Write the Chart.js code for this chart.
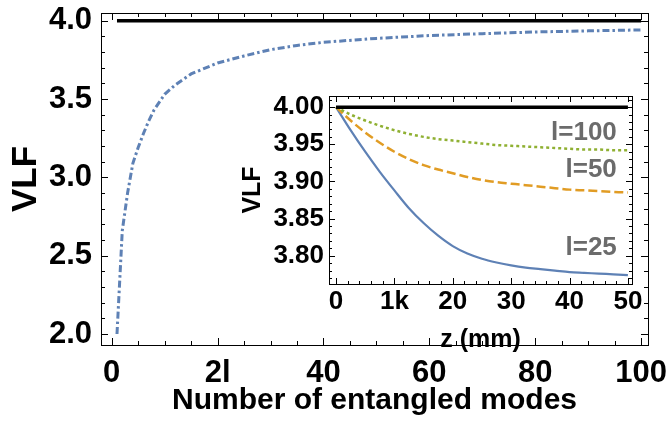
<!DOCTYPE html>
<html>
<head>
<meta charset="utf-8">
<script src="https://cdn.jsdelivr.net/npm/chart.js@4.4.1/dist/chart.umd.min.js"></script>
<style>
  body { margin: 0; background: #fff; }
  #wrap { position: relative; width: 670px; height: 426px; overflow: hidden; }
  canvas { position: absolute; }
</style>
</head>
<body>
<div id="wrap">
  <canvas id="mainChart" width="670" height="426" style="left:0;top:0;width:670px;height:426px"></canvas>
  <canvas id="insetChart" width="420" height="275" style="left:230px;top:85px;width:420px;height:275px"></canvas>
</div>
<script>
// main plot: VLF vs number of entangled modes
const mainModes = [1, 2, 3, 4, 5, 6, 7, 8, 10, 12, 15, 20, 25, 30, 35, 40, 50, 60, 70, 80, 90, 100];
const mainVLF = [2.00, 2.66, 2.90, 3.09, 3.19, 3.28, 3.36, 3.43, 3.53, 3.59, 3.66, 3.73, 3.775, 3.815, 3.842, 3.862, 3.887, 3.905, 3.917, 3.928, 3.935, 3.941];
const mainLimitX = [1, 100];
const mainLimitY = [4.0, 4.0];
const mainXTicks = [0, 20, 40, 60, 80, 100];
const mainXLabels = ['0', '2l', '40', '60', '80', '100'];
const mainYTicks = [2.0, 2.5, 3.0, 3.5, 4.0];
const mainYLabels = ['2.0', '2.5', '3.0', '3.5', '4.0'];

// inset: VLF vs z for three values of l
const insetZ = [0, 2.5, 5, 7.5, 10, 12.5, 15, 17.5, 20, 22.5, 25, 27.5, 30, 32.5, 35, 37.5, 40, 42.5, 45, 47.5, 50];
const vlfL25 = [4.000, 3.969, 3.940, 3.913, 3.888, 3.864, 3.844, 3.827, 3.813, 3.803, 3.796, 3.791, 3.787, 3.784, 3.782, 3.780, 3.778, 3.777, 3.776, 3.775, 3.774];
const vlfL50 = [4.000, 3.982, 3.966, 3.952, 3.940, 3.930, 3.922, 3.916, 3.911, 3.906, 3.902, 3.899, 3.897, 3.895, 3.893, 3.891, 3.889, 3.888, 3.887, 3.886, 3.885];
const vlfL100 = [4.000, 3.990, 3.982, 3.975, 3.969, 3.964, 3.960, 3.957, 3.955, 3.953, 3.951, 3.949, 3.948, 3.947, 3.946, 3.945, 3.944, 3.943, 3.943, 3.942, 3.942];
const insetLimitX = [0, 50];
const insetLimitY = [4.0, 4.0];
const insetXTicks = [0, 10, 20, 30, 40, 50];
const insetXLabels = ['0', '1k', '20', '30', '40', '50'];
const insetYTicks = [3.80, 3.85, 3.90, 3.95, 4.00];
const insetYLabels = ['3.80', '3.85', '3.90', '3.95', '4.00'];
const curveNames = ['l=25', 'l=50', 'l=100'];

const pts = (xs, ys) => xs.map((x, i) => ({ x: x, y: ys[i] }));

Chart.defaults.font.family = "'Liberation Sans', Arial, sans-serif";
Chart.defaults.font.weight = 'bold';
Chart.defaults.color = '#000';

// frame on all four sides with inward major/minor ticks (Mathematica style)
const frameTicks = {
  id: 'frameTicks',
  afterDatasetsDraw(chart, args, o) {
    const { ctx, chartArea: a, scales: { x, y } } = chart;
    ctx.save();
    ctx.strokeStyle = '#000';
    ctx.lineWidth = 1;
    ctx.strokeRect(Math.round(a.left) + 0.5, Math.round(a.top) + 0.5, Math.round(a.width), Math.round(a.height));
    ctx.beginPath();
    for (let k = Math.ceil(x.min / o.xStep); k * o.xStep <= x.max; k++) {
      const v = k * o.xStep;
      const len = Math.abs(v / o.xMajor - Math.round(v / o.xMajor)) < 1e-6 ? o.major : o.minor;
      const px = Math.round(x.getPixelForValue(v)) + 0.5;
      ctx.moveTo(px, a.bottom); ctx.lineTo(px, a.bottom - len);
      ctx.moveTo(px, a.top); ctx.lineTo(px, a.top + len);
    }
    for (let k = Math.ceil(y.min / o.yStep - 1e-6); k * o.yStep <= y.max + 1e-9; k++) {
      const v = k * o.yStep;
      const len = Math.abs(v / o.yMajor - Math.round(v / o.yMajor)) < 1e-6 ? o.major : o.minor;
      const py = Math.round(y.getPixelForValue(v)) + 0.5;
      ctx.moveTo(a.left, py); ctx.lineTo(a.left + len, py);
      ctx.moveTo(a.right, py); ctx.lineTo(a.right - len, py);
    }
    ctx.stroke();
    ctx.restore();
  }
};

// curve names inside the inset, placed in data coordinates
const curveLabels = {
  id: 'curveLabels',
  afterDatasetsDraw(chart, args, o) {
    if (!o.items) return;
    const { ctx, scales: { x, y } } = chart;
    ctx.save();
    ctx.font = "bold 26px 'Liberation Sans', Arial, sans-serif";
    ctx.fillStyle = '#6b6b6b';
    ctx.textAlign = 'right';
    ctx.textBaseline = 'middle';
    o.items.forEach(it => ctx.fillText(it.text, x.getPixelForValue(it.x), y.getPixelForValue(it.y)));
    ctx.restore();
  }
};

function axis(min, max, values, labels, size, pad, fit, title, titleSize, titlePad) {
  return {
    type: 'linear', min: min, max: max,
    grid: { display: false, drawTicks: false },
    border: { display: false },
    afterBuildTicks: s => { s.ticks = values.map(v => ({ value: v })); },
    afterFit: s => {
      fit(s);
      // keep the plot frame where it is, labels may overhang
      s.paddingTop = 0; s.paddingBottom = 0; s.paddingLeft = 0; s.paddingRight = 0;
    },
    ticks: { font: { size: size }, padding: pad, autoSkip: false, maxRotation: 0,
             callback: (v, i) => labels[i] },
    title: { display: true, text: title, font: { size: titleSize }, padding: titlePad }
  };
}

new Chart(document.getElementById('mainChart'), {
  type: 'scatter',
  data: {
    datasets: [
      { data: pts(mainLimitX, mainLimitY), showLine: true, borderColor: '#000', borderWidth: 3.5, pointRadius: 0 },
      { data: pts(mainModes, mainVLF), showLine: true, borderColor: '#5e81b5', borderWidth: 3,
        borderDash: [7, 3, 2.5, 3], pointRadius: 0 }
    ]
  },
  options: {
    responsive: false, animation: false, devicePixelRatio: 1,
    layout: { padding: { top: 13, right: 22, left: 0, bottom: 0 } },
    scales: {
      x: axis(-2.02, 101.3, mainXTicks, mainXLabels, 31, 10, s => { s.height = 81; },
              'Number of entangled modes', 30, { top: 0, bottom: 7 }),
      y: axis(1.93, 4.049, mainYTicks, mainYLabels, 31, 9, s => { s.width = 101; },
              'VLF', 35, { top: 5, bottom: 0 })
    },
    plugins: {
      legend: { display: false }, tooltip: { enabled: false },
      frameTicks: { xStep: 5, xMajor: 20, yStep: 0.1, yMajor: 0.5, major: 7, minor: 4 }
    }
  },
  plugins: [frameTicks]
});

new Chart(document.getElementById('insetChart'), {
  type: 'scatter',
  data: {
    datasets: [
      { data: pts(insetLimitX, insetLimitY), showLine: true, borderColor: '#000', borderWidth: 3.5, pointRadius: 0 },
      { label: curveNames[2], data: pts(insetZ, vlfL100), showLine: true, borderColor: '#8fb032', borderWidth: 2.5,
        borderDash: [3, 3], pointRadius: 0, cubicInterpolationMode: 'monotone' },
      { label: curveNames[1], data: pts(insetZ, vlfL50), showLine: true, borderColor: '#e19c24', borderWidth: 2.5,
        borderDash: [9, 4], pointRadius: 0, cubicInterpolationMode: 'monotone' },
      { label: curveNames[0], data: pts(insetZ, vlfL25), showLine: true, borderColor: '#5e81b5', borderWidth: 2.2,
        pointRadius: 0, cubicInterpolationMode: 'monotone' }
    ]
  },
  options: {
    responsive: false, animation: false, devicePixelRatio: 1,
    layout: { padding: { top: 11, right: 18, left: 0, bottom: 0 } },
    scales: {
      x: axis(-1.2, 50.7, insetXTicks, insetXLabels, 26, 2, s => { s.height = 76; },
              'z (mm)', 25, { top: 0, bottom: 5 }),
      y: axis(3.762, 4.015, insetYTicks, insetYLabels, 26, 5, s => { s.width = 99; },
              'VLF', 25, { top: 8, bottom: 0 })
    },
    plugins: {
      legend: { display: false }, tooltip: { enabled: false },
      frameTicks: { xStep: 2, xMajor: 10, yStep: 0.01, yMajor: 0.05, major: 6, minor: 3 },
      curveLabels: { items: [
        { text: curveNames[2], x: 48.1, y: 3.9655 },
        { text: curveNames[1], x: 48.1, y: 3.915 },
        { text: curveNames[0], x: 48.1, y: 3.811 }
      ] }
    }
  },
  plugins: [frameTicks, curveLabels]
});
</script>
</body>
</html>
